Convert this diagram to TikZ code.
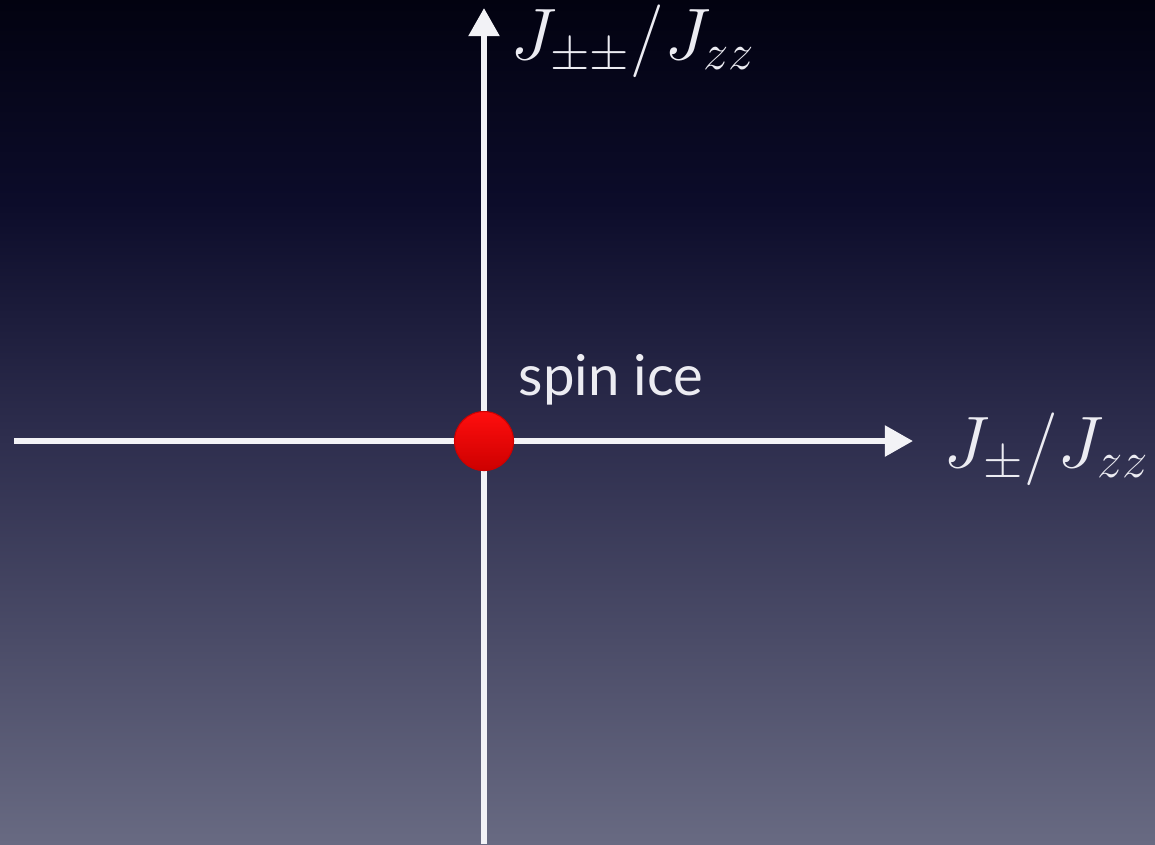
\documentclass[tikz,border=0pt]{standalone}
\usepackage{fontspec}
\setsansfont{Lato}
\usetikzlibrary{arrows.meta}
\definecolor{Cbg0}{RGB}{2,2,16}
\definecolor{Cbg1}{RGB}{12,12,42}
\definecolor{Cbg2}{RGB}{46,46,78}
\definecolor{Cbg3}{RGB}{104,106,130}
\definecolor{Cax}{RGB}{242,242,246}
\definecolor{Ctxt}{RGB}{236,236,242}
\definecolor{Cdot}{RGB}{255,14,14}
\definecolor{Cdotd}{RGB}{205,0,0}
% stops live between 25bp (bottom edge) and 75bp (top edge)
\pgfdeclareverticalshading{bgshade}{100bp}{%
  color(0bp)=(Cbg3); color(25bp)=(Cbg3); color(49bp)=(Cbg2);
  color(63bp)=(Cbg1); color(75bp)=(Cbg0); color(100bp)=(Cbg0)}
\tikzset{
  ax/.style={draw=Cax, line width=1.7pt,
    -{Triangle[length=8pt,width=8.5pt]}},
  lbl/.style={text=Ctxt, inner sep=0pt, anchor=base west,
    font=\fontsize{20}{24}\selectfont},
  tag/.style={text=Ctxt, inner sep=0pt, anchor=base west,
    font=\fontsize{16}{19}\selectfont\sffamily},
  dot/.style={circle, minimum size=0.59cm, inner sep=0pt,
    top color=Cdot, bottom color=Cdotd, draw=Cdotd, line width=0.3pt}
}

\begin{document}
\begin{tikzpicture}[x=0.01cm, y=-0.01cm]

% --- background (pixel grid 1155 x 844) ---
\shade[shading=bgshade] (0,0) rectangle (1155,844);
\useasboundingbox (0,0) rectangle (1155,844);

% --- axes ---
\coordinate (xl) at (14,441);
\coordinate (xr) at (913,441);
\coordinate (yb) at (484,844);
\coordinate (yt) at (484,8);

\draw[ax] (yb) -- (yt);
\draw[ax] (xl) -- (xr);

\node[lbl] (ylab) at (510,59)  {$J_{\pm\pm}/J_{zz}$};
\node[lbl] (xlab) at (943,467) {$J_{\pm}/J_{zz}$};

% --- spin ice point ---
\node[dot] (ice) at (484,441) {};
\node[tag] (icelab) at (518,395) {spin ice};

\end{tikzpicture}
\end{document}
